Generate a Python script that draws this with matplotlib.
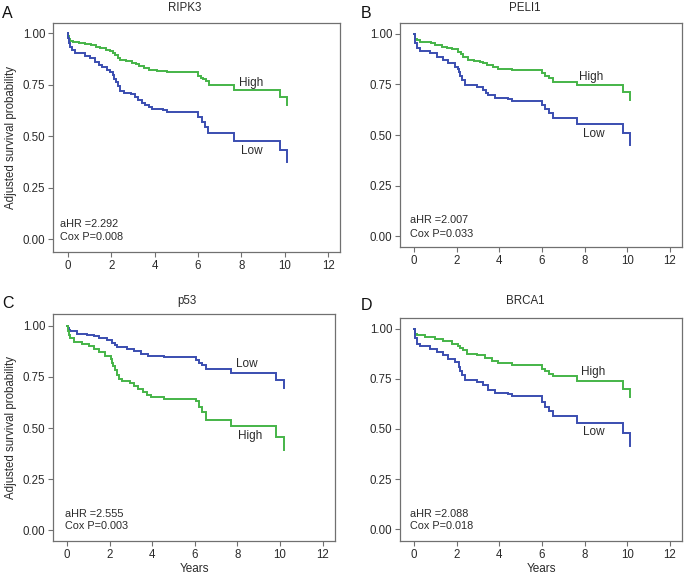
import matplotlib
matplotlib.use("Agg")
import matplotlib.pyplot as plt
import numpy as np

plt.rcParams['font.family'] = ['Liberation Sans', 'DejaVu Sans']

GREEN = "#45B447"
BLUE = "#3A4DB0"

# ---- data (step times in years, adjusted survival probability) ----
titles = ["RIPK3", "PELI1", "p53", "BRCA1"]
letters = ["A", "B", "C", "D"]
ahr = ["2.292", "2.007", "2.555", "2.088"]
coxp = ["0.008", "0.033", "0.003", "0.018"]

# Panel A
a_high_t = [0, 0.03, 0.07, 0.12, 0.25, 0.5, 0.8, 1.05, 1.3, 1.5, 1.75, 1.95, 2.1, 2.2, 2.3, 2.42, 2.7, 2.95, 3.15, 3.3, 3.5, 3.75, 4.1, 4.56, 6.02, 6.12, 6.25, 6.35, 6.5, 7.65, 9.8, 10.12]
a_high_s = [1.0, 0.985, 0.972, 0.963, 0.957, 0.952, 0.948, 0.942, 0.935, 0.927, 0.921, 0.914, 0.905, 0.895, 0.882, 0.87, 0.864, 0.858, 0.849, 0.84, 0.832, 0.822, 0.816, 0.81, 0.795, 0.785, 0.776, 0.767, 0.749, 0.725, 0.692, 0.652]
a_low_t = [0, 0.03, 0.07, 0.12, 0.18, 0.34, 0.8, 1.03, 1.26, 1.45, 1.6, 1.8, 1.95, 2.07, 2.15, 2.22, 2.3, 2.4, 2.6, 2.9, 3.1, 3.25, 3.4, 3.56, 3.75, 3.9, 4.4, 4.56, 6.02, 6.17, 6.32, 6.47, 7.65, 9.8, 10.12]
a_low_s = [1.0, 0.975, 0.955, 0.935, 0.918, 0.903, 0.891, 0.879, 0.862, 0.848, 0.836, 0.822, 0.814, 0.797, 0.78, 0.762, 0.742, 0.72, 0.71, 0.703, 0.69, 0.676, 0.663, 0.652, 0.642, 0.632, 0.626, 0.618, 0.595, 0.571, 0.547, 0.514, 0.479, 0.433, 0.377]

# Panel B
b_high_t = [0, 0.03, 0.07, 0.14, 0.3, 0.53, 0.8, 1.0, 1.31, 1.55, 1.78, 2.08, 2.2, 2.32, 2.55, 2.8, 3.1, 3.25, 3.41, 3.72, 3.95, 4.58, 6.03, 6.17, 6.32, 6.5, 7.65, 9.8, 10.15]
b_high_s = [1.0, 0.985, 0.975, 0.967, 0.96, 0.956, 0.951, 0.946, 0.935, 0.929, 0.923, 0.91, 0.898, 0.885, 0.869, 0.865, 0.861, 0.853, 0.845, 0.833, 0.825, 0.82, 0.806, 0.792, 0.779, 0.762, 0.748, 0.713, 0.672]
b_low_t = [0, 0.03, 0.07, 0.14, 0.29, 0.76, 1.07, 1.38, 1.62, 1.93, 2.05, 2.12, 2.18, 2.24, 2.4, 2.94, 3.25, 3.4, 3.49, 3.8, 4.42, 4.58, 6.03, 6.17, 6.32, 6.5, 7.65, 9.8, 10.15]
b_low_s = [1.0, 0.975, 0.955, 0.927, 0.913, 0.902, 0.885, 0.869, 0.853, 0.836, 0.825, 0.812, 0.79, 0.771, 0.746, 0.738, 0.722, 0.708, 0.697, 0.684, 0.677, 0.668, 0.648, 0.627, 0.607, 0.582, 0.556, 0.508, 0.451]

# Panel C
c_low_t = [0, 0.03, 0.08, 0.16, 0.47, 0.94, 1.25, 1.49, 1.88, 2.12, 2.25, 2.35, 2.82, 3.13, 3.45, 3.79, 4.55, 6.04, 6.2, 6.35, 6.5, 7.7, 9.83, 10.19]
c_low_s = [1.0, 0.988, 0.978, 0.972, 0.961, 0.956, 0.948, 0.94, 0.928, 0.915, 0.905, 0.896, 0.886, 0.874, 0.863, 0.853, 0.845, 0.83, 0.818, 0.806, 0.788, 0.768, 0.736, 0.697]
c_high_t = [0, 0.03, 0.07, 0.12, 0.31, 0.71, 1.02, 1.25, 1.49, 1.8, 2.04, 2.1, 2.16, 2.25, 2.35, 2.45, 2.6, 2.95, 3.15, 3.35, 3.55, 3.75, 3.95, 4.55, 6.04, 6.2, 6.35, 6.5, 7.7, 9.83, 10.19]
c_high_s = [1.0, 0.975, 0.955, 0.938, 0.92, 0.911, 0.901, 0.886, 0.872, 0.85, 0.835, 0.82, 0.805, 0.785, 0.76, 0.74, 0.728, 0.72, 0.705, 0.69, 0.675, 0.662, 0.65, 0.642, 0.63, 0.605, 0.58, 0.54, 0.512, 0.456, 0.395]

# Panel D
d_high_t = [0, 0.03, 0.07, 0.14, 0.53, 1.0, 1.38, 1.78, 2.06, 2.18, 2.28, 2.48, 2.94, 3.33, 3.64, 3.96, 4.58, 6.03, 6.17, 6.32, 6.5, 7.65, 9.8, 10.15]
d_high_s = [1.0, 0.985, 0.975, 0.967, 0.958, 0.95, 0.938, 0.925, 0.912, 0.902, 0.892, 0.872, 0.867, 0.856, 0.839, 0.829, 0.82, 0.801, 0.79, 0.776, 0.763, 0.739, 0.701, 0.657]
d_low_t = [0, 0.03, 0.07, 0.14, 0.29, 0.76, 1.07, 1.38, 1.62, 1.93, 2.12, 2.18, 2.24, 2.4, 2.94, 3.25, 3.49, 3.8, 4.42, 4.58, 6.03, 6.17, 6.32, 6.5, 7.65, 9.8, 10.15]
d_low_s = [1.0, 0.975, 0.955, 0.925, 0.912, 0.9, 0.884, 0.867, 0.851, 0.834, 0.809, 0.79, 0.768, 0.743, 0.734, 0.718, 0.693, 0.68, 0.673, 0.662, 0.635, 0.61, 0.59, 0.564, 0.532, 0.482, 0.416]

x_ticks = [0, 2, 4, 6, 8, 10, 12]
y_ticks = [0.0, 0.25, 0.5, 0.75, 1.0]

panels = [
    dict(curves=[(a_high_t, a_high_s, GREEN), (a_low_t, a_low_s, BLUE)],
         labels=[("High", 8.47, 0.76), ("Low", 8.49, 0.43)],
         pos=[53, 23, 340, 252], xlim=(-0.68, 12.55), ylim=(-0.062, 1.05),
         ann_x=-0.35, ann_y=(0.074, 0.01), ylabel=True, xlabel=False,
         title_xy=(185, 8), letter_xy=(7, 13)),
    dict(curves=[(b_high_t, b_high_s, GREEN), (b_low_t, b_low_s, BLUE)],
         labels=[("High", 8.33, 0.787), ("Low", 8.45, 0.504)],
         pos=[400, 23, 682, 247], xlim=(-0.65, 12.57), ylim=(-0.052, 1.052),
         ann_x=-0.16, ann_y=(0.082, 0.013), ylabel=False, xlabel=False,
         title_xy=(525, 8), letter_xy=(366, 13)),
    dict(curves=[(c_low_t, c_low_s, BLUE), (c_high_t, c_high_s, GREEN)],
         labels=[("Low", 8.43, 0.812), ("High", 8.6, 0.461)],
         pos=[53, 314, 335, 541], xlim=(-0.66, 12.58), ylim=(-0.052, 1.057),
         ann_x=-0.08, ann_y=(0.078, 0.021), ylabel=True, xlabel=True,
         title_xy=(187, 301), letter_xy=(8, 304)),
    dict(curves=[(d_high_t, d_high_s, GREEN), (d_low_t, d_low_s, BLUE)],
         labels=[("High", 8.42, 0.783), ("Low", 8.42, 0.486)],
         pos=[400, 318, 682, 541], xlim=(-0.65, 12.57), ylim=(-0.058, 1.053),
         ann_x=-0.16, ann_y=(0.075, 0.016), ylabel=False, xlabel=True,
         title_xy=(525, 301), letter_xy=(366, 306)),
]

W, H = 684, 576
fig = plt.figure(figsize=(W / 100, H / 100), dpi=100)
SPINE = "#707070"
TXT = "#2a2a2a"

for i, p in enumerate(panels):
    l, t, r, b = p["pos"]
    ax = fig.add_axes([l / W, 1 - b / H, (r - l) / W, (b - t) / H])
    for ts, ss, col in p["curves"]:
        ax.plot(ts, ss, drawstyle="steps-post", color=col, lw=1.4, solid_joinstyle="miter")
    for txt, x, y in p["labels"]:
        ax.text(x, y, txt, ha="center", va="center", fontsize=8.5, color=TXT)
    ax.text(p["ann_x"], p["ann_y"][0], "aHR =" + ahr[i], ha="left", va="center", fontsize=7.8, color=TXT)
    ax.text(p["ann_x"], p["ann_y"][1], "Cox P=" + coxp[i], ha="left", va="center", fontsize=7.8, color=TXT)
    ax.set_xlim(*p["xlim"])
    ax.set_ylim(*p["ylim"])
    ax.set_xticks(x_ticks)
    ax.set_xticklabels([str(v) for v in x_ticks])
    ax.set_yticks(y_ticks)
    ax.set_yticklabels(["%.2f" % v for v in y_ticks])
    ax.tick_params(direction="out", length=3.5, width=0.8, color=SPINE, labelsize=8.3, labelcolor=TXT, pad=2)
    for s in ax.spines.values():
        s.set_color(SPINE)
        s.set_linewidth(0.9)
    if p["ylabel"]:
        ax.set_ylabel("Adjusted survival probability", fontsize=8.3, color=TXT, labelpad=4)
    if p["xlabel"]:
        ax.set_xlabel("Years", fontsize=8.5, color=TXT, labelpad=2)
    fig.text(p["title_xy"][0] / W, 1 - p["title_xy"][1] / H, titles[i], ha="center", va="center", fontsize=8.3, color=TXT)
    fig.text(p["letter_xy"][0] / W, 1 - p["letter_xy"][1] / H, letters[i], ha="center", va="center", fontsize=11.5, color="#111111")

fig.savefig("out.png", dpi=100)
